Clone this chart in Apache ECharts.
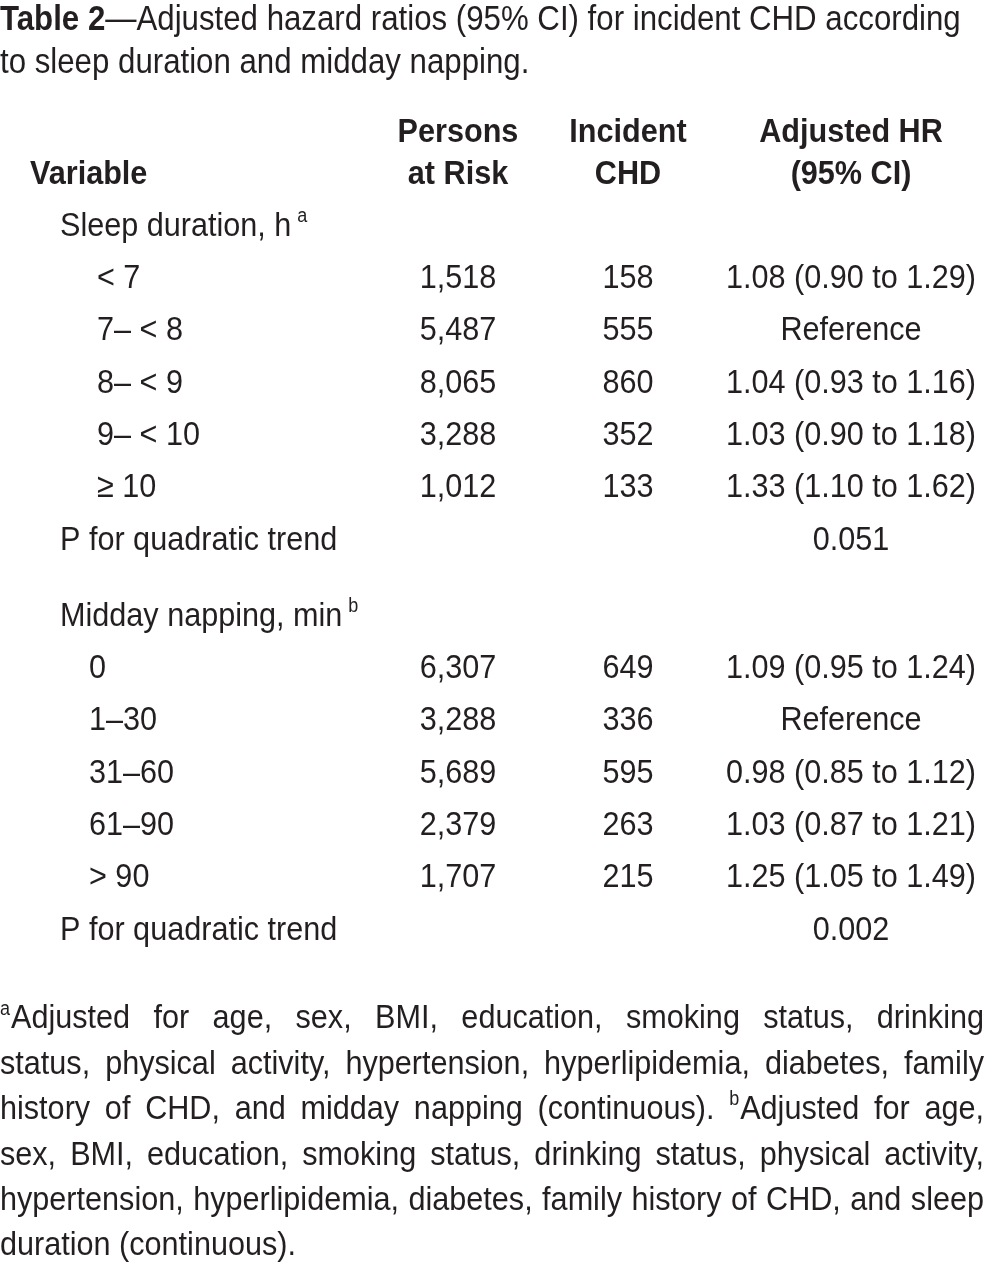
<!DOCTYPE html>
<html>
<head>
<meta charset="utf-8">
<script src="https://cdn.jsdelivr.net/npm/echarts@6/dist/echarts.min.js"></script>
<style>
html,body{margin:0;padding:0;background:#fff;}
#chart{width:985px;height:1262px;}
</style>
</head>
<body>
<div id="chart"></div>
<script>
// ---- DATA ----
const titleBold = 'Table 2';
const titleRest = '—Adjusted hazard ratios (95% CI) for incident CHD according';
const titleLine2 = 'to sleep duration and midday napping.';
const headerVariable = 'Variable';
const headerPersons = ['Persons', 'at Risk'];
const headerIncident = ['Incident', 'CHD'];
const headerHR = ['Adjusted HR', '(95% CI)'];

const sleepHeading = 'Sleep duration, h';
const sleepNote = 'a';
const sleepCategories = ['< 7', '7– < 8', '8– < 9', '9– < 10', '≥ 10'];
const sleepPersons = ['1,518', '5,487', '8,065', '3,288', '1,012'];
const sleepIncident = ['158', '555', '860', '352', '133'];
const sleepHR = ['1.08 (0.90 to 1.29)', 'Reference', '1.04 (0.93 to 1.16)', '1.03 (0.90 to 1.18)', '1.33 (1.10 to 1.62)'];
const sleepTrendLabel = 'P for quadratic trend';
const sleepTrendP = '0.051';

const napHeading = 'Midday napping, min';
const napNote = 'b';
const napCategories = ['0', '1–30', '31–60', '61–90', '> 90'];
const napPersons = ['6,307', '3,288', '5,689', '2,379', '1,707'];
const napIncident = ['649', '336', '595', '263', '215'];
const napHR = ['1.09 (0.95 to 1.24)', 'Reference', '0.98 (0.85 to 1.12)', '1.03 (0.87 to 1.21)', '1.25 (1.05 to 1.49)'];
const napTrendLabel = 'P for quadratic trend';
const napTrendP = '0.002';

// '^x' prefix marks a superscript footnote letter
const footnoteLines = [
  '^aAdjusted for age, sex, BMI, education, smoking status, drinking',
  'status, physical activity, hypertension, hyperlipidemia, diabetes, family',
  'history of CHD, and midday napping (continuous). ^bAdjusted for age,',
  'sex, BMI, education, smoking status, drinking status, physical activity,',
  'hypertension, hyperlipidemia, diabetes, family history of CHD, and sleep',
  'duration (continuous).'
];

// ---- LAYOUT ----
const FAM = '"Liberation Sans", Arial, Helvetica, sans-serif';
const SIZE = 34;
const TSIZE = 34.7;
const SUP = 20;
const SX = 0.9;
const COLOR = '#231f20';
const W = 985;

const colPersons = 458, colIncident = 628, colHR = 851;
const xVar = 30, xHead = 60, xSleepCat = 97, xNapCat = 89;

const ctx = document.createElement('canvas').getContext('2d');
function measure(t, size, weight) {
  ctx.font = (weight || 'normal') + ' ' + size + 'px ' + FAM;
  return ctx.measureText(t).width * SX;
}

const els = [];
function txt(t, x, y, opt) {
  opt = opt || {};
  els.push({
    type: 'text', x: x, y: y, scaleX: SX, silent: true,
    style: {
      text: t,
      fontFamily: FAM,
      fontSize: opt.size || SIZE,
      fontWeight: opt.bold ? 'bold' : 'normal',
      fill: COLOR,
      align: opt.align || 'left',
      verticalAlign: 'middle',
      textAlign: opt.align || 'left',
      textVerticalAlign: 'middle'
    }
  });
}

// Title
els.push({
  type: 'text', x: 0, y: 20, scaleX: SX, silent: true,
  style: {
    text: '{b|' + titleBold + '}{r|' + titleRest + '}',
    rich: {
      b: { fontFamily: FAM, fontSize: TSIZE, fontWeight: 'bold', fill: COLOR },
      r: { fontFamily: FAM, fontSize: TSIZE, fill: COLOR }
    },
    fill: COLOR, fontFamily: FAM, fontSize: TSIZE,
    align: 'left', verticalAlign: 'middle', textAlign: 'left', textVerticalAlign: 'middle'
  }
});
txt(titleLine2, 0, 63.5, { size: TSIZE });

// Header
txt(headerPersons[0], colPersons, 132.5, { bold: true, align: 'center' });
txt(headerPersons[1], colPersons, 174.5, { bold: true, align: 'center' });
txt(headerIncident[0], colIncident, 132.5, { bold: true, align: 'center' });
txt(headerIncident[1], colIncident, 174.5, { bold: true, align: 'center' });
txt(headerHR[0], colHR, 132.5, { bold: true, align: 'center' });
txt(headerHR[1], colHR, 174.5, { bold: true, align: 'center' });
txt(headerVariable, xVar, 174.5, { bold: true });

function section(heading, note, cats, persons, incident, hr, trendLabel, trendP, y0, xCat) {
  const step = 52.3;
  txt(heading, xHead, y0);
  txt(note, xHead + measure(heading, SIZE) + 6, y0 - 10, { size: SUP });
  for (let i = 0; i < cats.length; i++) {
    const y = y0 + step * (i + 1);
    txt(cats[i], xCat, y);
    txt(persons[i], colPersons, y, { align: 'center' });
    txt(incident[i], colIncident, y, { align: 'center' });
    txt(hr[i], colHR, y, { align: 'center' });
  }
  const yt = y0 + step * (cats.length + 1);
  txt(trendLabel, xHead, yt);
  txt(trendP, colHR, yt, { align: 'center' });
}
section(sleepHeading, sleepNote, sleepCategories, sleepPersons, sleepIncident, sleepHR, sleepTrendLabel, sleepTrendP, 226.5, xSleepCat);
section(napHeading, napNote, napCategories, napPersons, napIncident, napHR, napTrendLabel, napTrendP, 616.5, xNapCat);

// Footnotes (justified)
const fy0 = 1019, fstep = 45.4;
footnoteLines.forEach(function (line, li) {
  const y = fy0 + fstep * li;
  const words = line.split(' ').map(function (w) {
    if (w.charAt(0) === '^') return { sup: w.charAt(1), word: w.slice(2) };
    return { sup: '', word: w };
  });
  const widths = words.map(function (w) {
    return (w.sup ? measure(w.sup, SUP) + 1 : 0) + measure(w.word, SIZE);
  });
  const total = widths.reduce(function (a, b) { return a + b; }, 0);
  const last = li === footnoteLines.length - 1;
  const gap = last ? measure(' ', SIZE) : (W - 1 - total) / (words.length - 1);
  let x = 0;
  words.forEach(function (w, i) {
    let xx = x;
    if (w.sup) {
      txt(w.sup, xx, y - 10, { size: SUP });
      xx += measure(w.sup, SUP) + 1;
    }
    txt(w.word, xx, y);
    x += widths[i] + gap;
  });
});

const chart = echarts.init(document.getElementById('chart'), null, { renderer: 'canvas' });
chart.setOption({ backgroundColor: '#ffffff', animation: false, graphic: { elements: els } });
</script>
</body>
</html>
